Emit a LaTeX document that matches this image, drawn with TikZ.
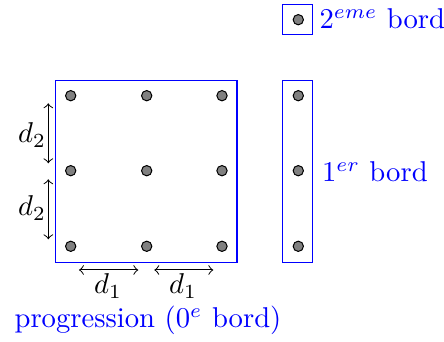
\documentclass[tikz,border=0pt]{standalone}
\begin{document}
\begin{tikzpicture}[x=0.349pt,y=-0.349pt,
  dot/.style={circle,draw=black,fill=gray,inner sep=0pt,minimum size=3.6pt,line width=0.35pt},
  bordbox/.style={draw=blue,line width=0.4pt},
  dim/.style={<->,line width=0.35pt,>=to},
  lbl/.style={inner sep=0pt,text=blue}]
\useasboundingbox (0,0) rectangle (444,342);
% main square
\draw[bordbox] (55.7,80.7) rectangle (237,262.3);
\foreach \i/\x in {1/70.7,2/146.7,3/222}{
  \foreach \j/\y in {1/95.7,2/170.7,3/246.3}{
    \node[dot] (m\i\j) at (\x,\y) {};
  }
}
% first border
\draw[bordbox] (282.7,80.7) rectangle (312.7,262.3);
\node[dot] (b1) at (298.3,95.7) {};
\node[dot] (b2) at (298.3,170.7) {};
\node[dot] (b3) at (298.3,246.3) {};
% second border
\draw[bordbox] (282.7,4.7) rectangle (312.7,34.7);
\node[dot] (c1) at (298.3,19.7) {};
% labels
\node[lbl,anchor=base west] (l2) at (319,29) {$2^{eme}$ bord};
\node[lbl,anchor=base west] (l1) at (321.5,182) {$1^{er}$ bord};
\node[lbl,anchor=base west] (l0) at (14,328) {progression ($0^e$ bord)};
% dimension arrows
\coordinate (v1) at (48.3,103.3);
\coordinate (v2) at (48.3,163.3);
\coordinate (v3) at (48.3,179.3);
\coordinate (v4) at (48.3,239.3);
\draw[dim] (v1) -- (v2);
\draw[dim] (v3) -- (v4);
\coordinate (h1) at (79,270);
\coordinate (h2) at (138.3,270);
\coordinate (h3) at (154.3,270);
\coordinate (h4) at (213.3,270);
\draw[dim] (h1) -- (h2);
\draw[dim] (h3) -- (h4);
\node[inner sep=0pt] (dv1) at (32,135) {$d_2$};
\node[inner sep=0pt] (dv2) at (32,208) {$d_2$};
\node[inner sep=0pt] (dh1) at (108,286) {$d_1$};
\node[inner sep=0pt] (dh2) at (183,286) {$d_1$};
\end{tikzpicture}
\end{document}
